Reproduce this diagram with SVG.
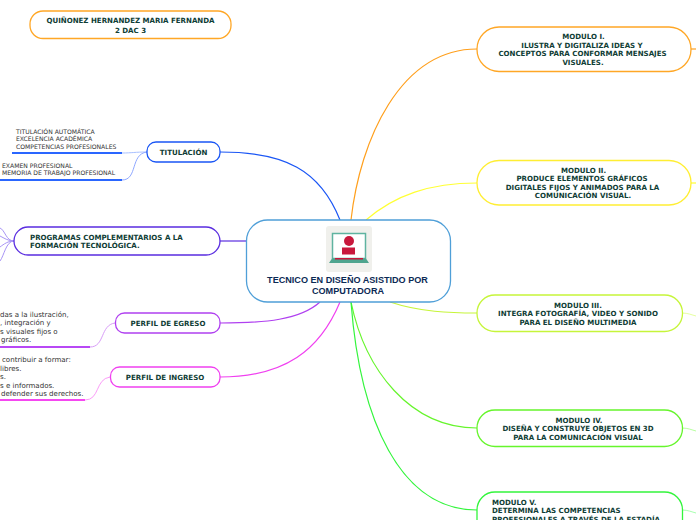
<svg xmlns="http://www.w3.org/2000/svg" width="696" height="520" viewBox="0 0 696 520">
<style>
.n{fill:#fff;stroke-width:1.3}
.c{fill:none;stroke-width:1.2}
.l{fill:none;stroke-width:1}
.b{fill:none;stroke-width:2}
text{font-family:"DejaVu Sans",Verdana,sans-serif}
.t{font-size:7.05px;font-weight:bold;fill:#0f3d35;text-anchor:middle}
.s{font-size:7.05px;font-weight:bold;fill:#0f3d35}
.f{font-size:7.05px;fill:#333}
.u{font-size:6.1px;fill:#333}
.m{font-family:"Liberation Sans",Arial,sans-serif;font-size:9.1px;font-weight:bold;fill:#0c2a55;text-anchor:middle}
</style>
<g id="connectors">
<path class="c" stroke="#1a56f5" d="M220 152C285 152 320 170 340 220"/>
<path class="c" stroke="#ff9f1c" d="M351 220C360 140 400 49 477 49"/>
<path class="c" stroke="#ffff33" d="M366 220C395 195 430 183 477 183"/>
<path class="c" stroke="#c6f53a" d="M390 302C420 312 450 313 477 313"/>
<path class="c" stroke="#66f52c" d="M351 302C365 370 410 428 477 428"/>
<path class="c" stroke="#33f53c" d="M351 302C360 420 400 510 477 510"/>
<path class="c" stroke="#5a2de0" d="M220 241H246"/>
<path class="c" stroke="#b040f0" d="M220 323C265 323 300 320 320 302"/>
<path class="c" stroke="#f040f0" d="M220 377C285 377 320 350 340 302"/>
<path class="c" stroke="#ff9f1c" d="M691 49H696"/>
<path class="c" stroke="#ffff33" d="M691 183H696"/>
<path class="l" stroke="#e6ffa0" d="M682 313C688 313 692 315 696 316"/>
<path class="l" stroke="#b8ffa0" d="M682 428C688 428 692 430 696 431"/>
<path class="l" stroke="#a8ffb0" d="M682 510C688 510 692 512 696 513"/>
<path class="l" stroke="#a894f5" d="M14 241C6 241 5 230 0 228"/>
<path class="l" stroke="#a894f5" d="M14 241C8 241 4 238 0 236"/>
<path class="l" stroke="#a894f5" d="M14 241C8 241 4 244 0 247"/>
<path class="l" stroke="#a894f5" d="M14 241C6 241 4 256 0 261"/>
<path class="l" stroke="#a8c0ff" d="M147 152C135 152 132 153 122 153"/>
<path class="l" stroke="#8fa8ff" d="M147 152C130 154 138 180 122 180"/>
<path class="l" stroke="#d89cf8" d="M115 323C100 325 105 347 90 347"/>
<path class="l" stroke="#fb9cf8" d="M110 377C95 379 100 400 85 400"/>
<path class="b" stroke="#2a66ff" d="M12 153H122"/>
<path class="b" stroke="#2a66ff" d="M0 180H122"/>
<path class="b" stroke="#b848f5" d="M0 347H90"/>
<path class="b" stroke="#f548f0" d="M0 400H85"/>
</g>
<g id="autor"><rect class="n" stroke="#ffa726" x="30" y="11" width="201" height="27.500" rx="13"/>
<text class="t" x="130.500" y="23">QUIÑONEZ HERNANDEZ MARIA FERNANDA</text><text class="t" x="130.500" y="33">2 DAC 3</text></g>
<g id="central"><rect class="n" stroke="#4f9fd8" x="246.500" y="220" width="204" height="82" rx="21"/>
<rect x="326" y="226" width="46" height="46" rx="3" fill="#f0f0ec"/>
<rect x="332.500" y="233.500" width="33" height="25" fill="#fff" stroke="#5fb3a0" stroke-width="1.500"/>
<path d="M332 258.500h34l3 4.500h-40z" fill="#4fa58f"/>
<circle cx="349" cy="241" r="5" fill="#c8183c"/>
<rect x="342" y="247.500" width="13" height="7" fill="#c8183c"/>
<rect x="335" y="258" width="28" height="1.500" fill="#c8183c"/>
<text class="m" x="347.500" y="283">TECNICO EN DISEÑO ASISTIDO POR</text><text class="m" x="348" y="294">COMPUTADORA</text></g>
<g id="modulo1"><rect class="n" stroke="#ffa726" x="477" y="27" width="214" height="44.500" rx="22"/>
<text class="t" x="583.500" y="39">MODULO I.</text><text class="t" x="582" y="48">ILUSTRA Y DIGITALIZA IDEAS Y</text><text class="t" x="582.500" y="56">CONCEPTOS PARA CONFORMAR MENSAJES</text><text class="t" x="583" y="65">VISUALES.</text></g>
<g id="modulo2"><rect class="n" stroke="#ffee33" x="477" y="160.500" width="214" height="44.500" rx="22"/>
<text class="t" x="583.500" y="173">MODULO II.</text><text class="t" x="582" y="181">PRODUCE ELEMENTOS GRÁFICOS</text><text class="t" x="582.500" y="190">DIGITALES FIJOS Y ANIMADOS PARA LA</text><text class="t" x="583" y="198">COMUNICACIÓN VISUAL.</text></g>
<g id="modulo3"><rect class="n" stroke="#c6f53a" x="477" y="295" width="205.500" height="36.500" rx="18"/>
<text class="t" x="578" y="308">MODULO III.</text><text class="t" x="578" y="316">INTEGRA FOTOGRAFÍA, VIDEO Y SONIDO</text><text class="t" x="578" y="325">PARA EL DISEÑO MULTIMEDIA</text></g>
<g id="modulo4"><rect class="n" stroke="#66f52c" x="477" y="410" width="205.500" height="36.500" rx="18"/>
<text class="t" x="579" y="423">MODULO IV.</text><text class="t" x="578" y="431">DISEÑA Y CONSTRUYE OBJETOS EN 3D</text><text class="t" x="578" y="440">PARA LA COMUNICACIÓN VISUAL</text></g>
<g id="modulo5"><rect class="n" stroke="#33f53c" x="477" y="492" width="205.500" height="50" rx="18"/>
<text class="s" x="492" y="505">MODULO V.</text><text class="s" x="492" y="513">DETERMINA LAS COMPETENCIAS</text><text class="s" x="492" y="522">PROFESIONALES A TRAVÉS DE LA ESTADÍA</text></g>
<g id="titulacion"><rect class="n" stroke="#1a56f5" x="147" y="142" width="73" height="20" rx="9"/>
<text class="t" x="183.500" y="155">TITULACIÓN</text></g>
<g id="programas"><rect class="n" stroke="#5a2de0" x="14" y="227" width="206" height="28" rx="14"/>
<text class="s" x="30" y="240">PROGRAMAS COMPLEMENTARIOS A LA</text><text class="s" x="30" y="248">FORMACIÓN TECNOLÓGICA.</text></g>
<g id="egreso"><rect class="n" stroke="#b040f0" x="115.500" y="313" width="104.500" height="20" rx="9"/>
<text class="t" x="168" y="326">PERFIL DE EGRESO</text></g>
<g id="ingreso"><rect class="n" stroke="#f040f0" x="110.500" y="367" width="109.500" height="20" rx="9"/>
<text class="t" x="165" y="380">PERFIL DE INGRESO</text></g>
<g id="hojas">
<text class="u" x="16" y="134">TITULACIÓN AUTOMÁTICA</text><text class="u" x="16" y="141">EXCELENCIA ACADÉMICA</text><text class="u" x="16" y="149">COMPETENCIAS PROFESIONALES</text>
<text class="u" x="2" y="168">EXAMEN PROFESIONAL</text><text class="u" x="2" y="175">MEMORIA DE TRABAJO PROFESIONAL</text>
<text class="f" x="0" y="316.500">das a la ilustración,</text><text class="f" x="0" y="325">, integración y</text><text class="f" x="0" y="334">s visuales fijos o</text><text class="f" x="1" y="342">gráficos.</text>
<text class="f" x="2" y="362">contribuir a formar:</text><text class="f" x="0" y="371">libres.</text><text class="f" x="0" y="379">s.</text><text class="f" x="0" y="388">s e informados.</text><text class="f" x="1" y="396">defender sus derechos.</text>
</g>
</svg>
